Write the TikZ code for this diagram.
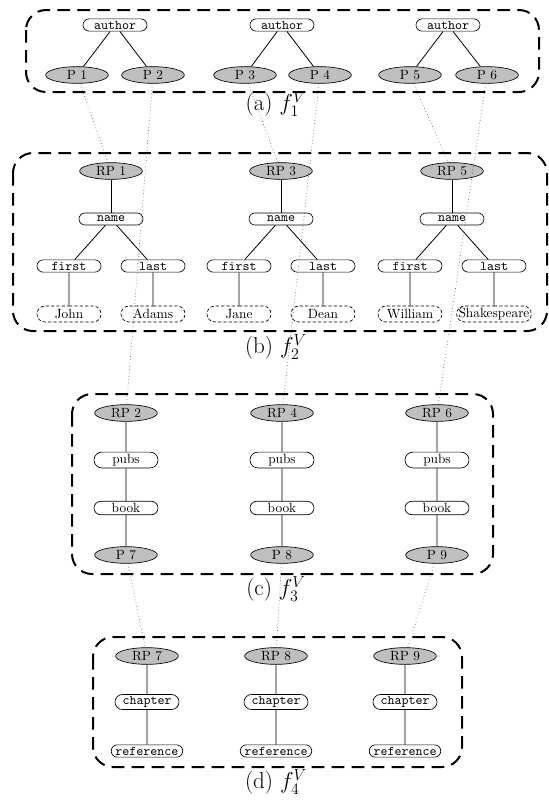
\documentclass[tikz,border=0pt]{standalone}
\usetikzlibrary{shapes.misc,shapes.geometric}
\begin{document}
\begin{tikzpicture}[x=0.75pt,y=-0.75pt,
  tag/.style={rounded rectangle, draw, line width=0.5pt, minimum width=52pt, minimum height=9pt, inner xsep=2pt, inner ysep=1.5pt, font=\ttfamily},
  rtag/.style={tag, font=\rmfamily},
  leaf/.style={tag, dash pattern=on 2.5pt off 1.5pt, minimum height=12pt, font=\rmfamily},
  ptr/.style={ellipse, draw, line width=0.5pt, fill=gray!50, minimum width=47pt, minimum height=12.5pt, inner sep=0.5pt},
  grp/.style={draw, line width=1.5pt, dash pattern=on 9.5pt off 5.5pt, rounded corners=15pt},
  treeedge/.style={draw, line width=0.6pt},
  linkedge/.style={draw, black!65, line width=0.5pt, dotted},
  captext/.style={font=\LARGE, inner sep=0pt}]
\useasboundingbox (0,0) rectangle (549,801);
% ---- (a)
\draw[grp] (26,10) rectangle (539,92);
\node[tag] (au1) at (115,25) {author};
\node[tag] (au2) at (282,25) {author};
\node[tag] (au3) at (448,25) {author};
\node[ptr] (p1) at (77,75) {P 1};
\node[ptr] (p2) at (153,75) {P 2};
\node[ptr] (p3) at (245,75) {P 3};
\node[ptr] (p4) at (320,75) {P 4};
\node[ptr] (p5) at (410,75) {P 5};
\node[ptr] (p6) at (487,75) {P 6};
\foreach \a/\b in {au1/p1,au1/p2,au2/p3,au2/p4,au3/p5,au3/p6} \draw[treeedge] (\a) -- (\b);
\node[captext] (capa) at (276,104) {(a)\ $f_1^V$};
% ---- (b)
\draw[grp] (13,153) rectangle (547,331);
\foreach \i/\x/\n/\f/\l in {1/111/1/John/Adams, 3/281/2/Jane/Dean, 5/452/3/William/{\makebox[48pt]{Shakespeare}}}{
  \node[ptr] (rp\i) at (\x,171) {RP \i};
  \node[tag] (nm\n) at (\x,219) {name};
  \node[tag] (fi\n) at (\x-42,266) {first};
  \node[tag] (la\n) at (\x+42,266) {last};
  \node[leaf] (fv\n) at (\x-42,314) {\f};
  \node[leaf] (lv\n) at (\x+42,314) {\l};
  \draw[treeedge] (rp\i) -- (nm\n);
  \draw[treeedge] (nm\n) -- (fi\n);
  \draw[treeedge] (nm\n) -- (la\n);
  \draw[treeedge] (fi\n) -- (fv\n);
  \draw[treeedge] (la\n) -- (lv\n);
}
\node[captext] (capb) at (276,347) {(b)\ $f_2^V$};
% ---- (c)
\draw[grp] (72,394) rectangle (493,574);
\foreach \i/\x/\q in {2/126/7, 4/282/8, 6/437/9}{
  \node[ptr] (rp\i) at (\x,413) {RP \i};
  \node[rtag] (pu\i) at (\x,460) {pubs};
  \node[rtag] (bo\i) at (\x,508) {book};
  \node[ptr] (p\q) at (\x,555) {P \q};
  \draw[treeedge] (rp\i) -- (pu\i);
  \draw[treeedge] (pu\i) -- (bo\i);
  \draw[treeedge] (bo\i) -- (p\q);
}
\node[captext] (capc) at (276,589) {(c)\ $f_3^V$};
% ---- (d)
\draw[grp] (93,637) rectangle (462,767);
\foreach \i/\x in {7/147, 8/276, 9/405}{
  \node[ptr] (rp\i) at (\x,656) {RP \i};
  \node[tag] (ch\i) at (\x,702) {chapter};
  \node[tag] (re\i) at (\x,751) {reference};
  \draw[treeedge] (rp\i) -- (ch\i);
  \draw[treeedge] (ch\i) -- (re\i);
}
\node[captext] (capd) at (276,782) {(d)\ $f_4^V$};
% ---- links
\foreach \i in {1,...,9} \draw[linkedge] (p\i) -- (rp\i);
\end{tikzpicture}
\end{document}
